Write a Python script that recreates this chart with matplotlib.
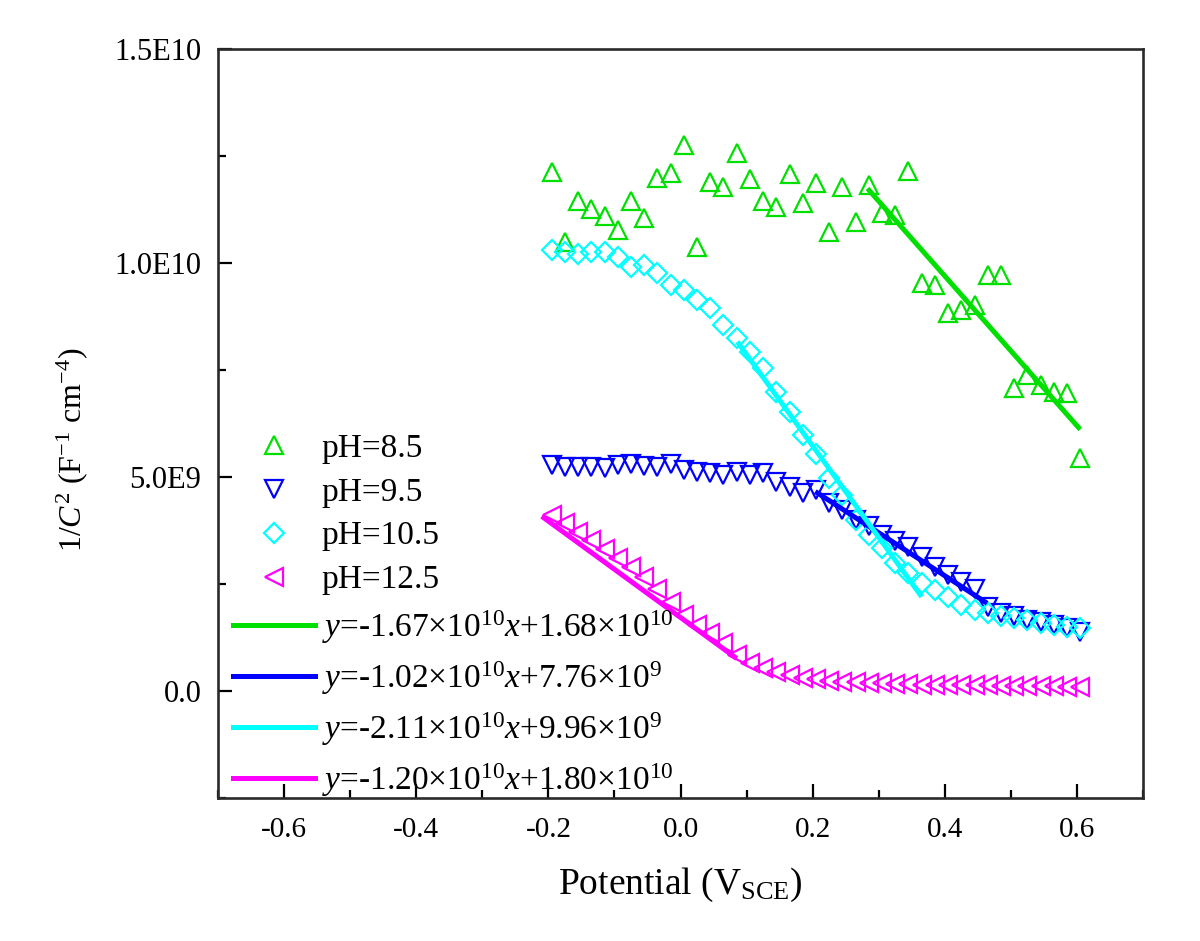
import numpy as np
import matplotlib
matplotlib.use("Agg")
import matplotlib.pyplot as plt
from matplotlib.ticker import FixedLocator, MultipleLocator
from matplotlib.lines import Line2D

plt.rcParams['font.family'] = ['Liberation Serif', 'DejaVu Serif']
plt.rcParams['mathtext.fontset'] = 'custom'
plt.rcParams['mathtext.rm'] = 'Liberation Serif'
plt.rcParams['mathtext.it'] = 'Liberation Serif:italic'
plt.rcParams['axes.unicode_minus'] = False

# potential (V vs SCE), shared by all four runs
potential = [-0.195, -0.175, -0.155, -0.135, -0.115, -0.095, -0.075, -0.055, -0.035, -0.015,
             0.005, 0.025, 0.045, 0.065, 0.085, 0.105, 0.125, 0.145, 0.165, 0.185,
             0.205, 0.225, 0.245, 0.265, 0.285, 0.305, 0.325, 0.345, 0.365, 0.385,
             0.405, 0.425, 0.445, 0.465, 0.485, 0.505, 0.525, 0.545, 0.565, 0.585, 0.605]

# 1/C^2 values, units of 1e9 F^-2 cm^4
ph85 = [12.13, 10.50, 11.45, 11.25, 11.10, 10.77, 11.45, 11.06, 11.98, 12.11,
        12.75, 10.38, 11.90, 11.78, 12.56, 11.95, 11.45, 11.30, 12.07, 11.39,
        11.87, 10.73, 11.78, 10.96, 11.82, 11.17, 11.12, 12.15, 9.52, 9.48,
        8.84, 8.90, 9.02, 9.72, 9.72, 7.07, 7.38, 7.15, 6.99, 6.97, 5.44]
ph95 = [5.28, 5.24, 5.24, 5.24, 5.20, 5.28, 5.30, 5.26, 5.24, 5.30,
        5.16, 5.12, 5.09, 5.05, 5.12, 5.05, 5.09, 4.89, 4.77, 4.62,
        4.70, 4.40, 4.22, 4.00, 3.86, 3.65, 3.50, 3.36, 3.12, 2.90,
        2.72, 2.55, 2.38, 1.97, 1.82, 1.74, 1.66, 1.62, 1.54, 1.46, 1.38]
ph105 = [10.30, 10.26, 10.22, 10.26, 10.26, 10.15, 9.91, 9.95, 9.76, 9.48,
         9.37, 9.13, 8.94, 8.55, 8.24, 7.93, 7.54, 6.99, 6.52, 5.98,
         5.53, 4.97, 4.58, 3.99, 3.64, 3.33, 2.98, 2.75, 2.52, 2.36,
         2.20, 2.01, 1.89, 1.82, 1.74, 1.70, 1.66, 1.58, 1.54, 1.50, 1.46]
ph125 = [4.11, 3.93, 3.72, 3.53, 3.31, 3.10, 2.90, 2.67, 2.38, 2.09,
         1.78, 1.54, 1.35, 1.11, 0.84, 0.65, 0.53, 0.45, 0.37, 0.31,
         0.27, 0.24, 0.22, 0.20, 0.19, 0.18, 0.17, 0.16, 0.15, 0.15,
         0.14, 0.14, 0.13, 0.13, 0.12, 0.12, 0.12, 0.11, 0.11, 0.10, 0.10]

series_labels = ['pH=8.5', 'pH=9.5', 'pH=10.5', 'pH=12.5']
series_markers = ['^', 'v', 'D', '<']
colors = ['#00e000', '#0000ff', '#00ffff', '#ff00ff']

# linear fits as drawn: start/end potential and 1/C^2 (1e9)
fit_x0 = [0.283, 0.204, 0.086, -0.21]
fit_x1 = [0.605, 0.464, 0.365, 0.085]
fit_y0 = [11.74, 4.66, 8.16, 4.08]
fit_y1 = [6.11, 2.05, 2.20, 0.76]
fit_labels = [r'$y$=-1.67×10$^{10}$$x$+1.68×10$^{10}$',
              r'$y$=-1.02×10$^{10}$$x$+7.76×10$^{9}$',
              r'$y$=-2.11×10$^{10}$$x$+9.96×10$^{9}$',
              r'$y$=-1.20×10$^{10}$$x$+1.80×10$^{10}$']

xtick_vals = [-0.6, -0.4, -0.2, 0.0, 0.2, 0.4, 0.6]
xtick_labels = ['-0.6', '-0.4', '-0.2', '0.0', '0.2', '0.4', '0.6']
ytick_vals = [0, 5e9, 1e10, 1.5e10]
ytick_labels = ['0.0', '5.0E9', '1.0E10', '1.5E10']

fig = plt.figure(figsize=(12, 9.41), dpi=100)
ax = fig.add_axes([0.1817, 0.152, 0.7708, 0.796])

x = np.array(potential)
handles = []
for vals, lab, mk, c in zip([ph85, ph95, ph105, ph125], series_labels, series_markers, colors):
    ms = 10.5 if mk == 'D' else 12.5
    ax.plot(x, np.array(vals) * 1e9, linestyle='none', marker=mk, ms=ms,
            mfc='none', mec=c, mew=1.6)
    handles.append(Line2D([], [], linestyle='none', marker=mk, ms=ms,
                          mfc='none', mec=c, mew=1.6, label=lab))

for i in range(4):
    ax.plot([fit_x0[i], fit_x1[i]], [fit_y0[i] * 1e9, fit_y1[i] * 1e9],
            color=colors[i], lw=3.6, solid_capstyle='butt')
    handles.append(Line2D([], [], color=colors[i], lw=3.6, label=fit_labels[i]))

ax.set_xlim(-0.7, 0.7)
ax.set_ylim(-2.5e9, 1.5e10)
ax.xaxis.set_major_locator(FixedLocator(xtick_vals))
ax.set_xticklabels(xtick_labels)
ax.xaxis.set_minor_locator(MultipleLocator(0.1))
ax.yaxis.set_major_locator(FixedLocator(ytick_vals))
ax.set_yticklabels(ytick_labels)
ax.yaxis.set_minor_locator(MultipleLocator(2.5e9))

ax.tick_params(which='major', direction='in', length=10, width=1.6, pad=12)
ax.tick_params(which='minor', direction='in', length=6, width=1.6)
ax.tick_params(axis='x', labelsize=21, pad=14)
ax.tick_params(axis='y', labelsize=22, pad=12)
for s in ax.spines.values():
    s.set_linewidth(1.9)
    s.set_color('#2a2a2a')

ax.set_xlabel(r'Potential (V$_{\rm SCE}$)', fontsize=27, labelpad=16)
ax.set_ylabel(r'1/$C^2$ (F$^{-1}$ cm$^{-4}$)', fontsize=23)
ax.yaxis.set_label_coords(-0.138, 0.465)

ax.legend(handles=handles, loc='upper left', bbox_to_anchor=(0.016, 0.487),
          frameon=False, fontsize=24, borderpad=0, borderaxespad=0,
          handlelength=2.46, handletextpad=0.2, labelspacing=0.4)

fig.savefig('out.png', dpi=100)
